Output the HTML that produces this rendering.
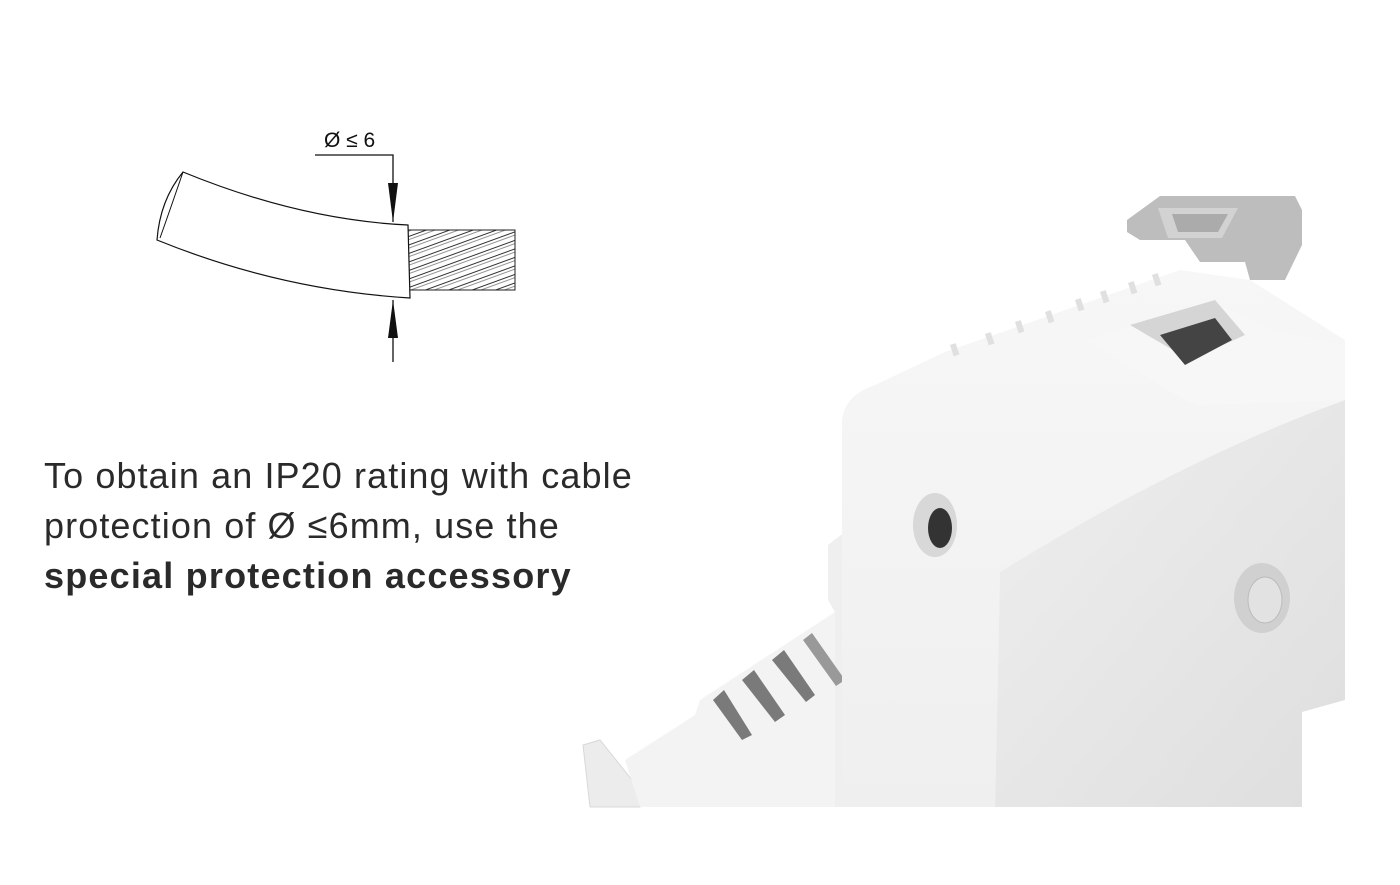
<!DOCTYPE html>
<html><head><meta charset="utf-8"><style>
html,body{margin:0;padding:0;background:#fff;}
body{width:1400px;height:885px;position:relative;overflow:hidden;font-family:"Liberation Sans",sans-serif;}
.t{position:absolute;left:44px;font-size:36px;color:#2a2a2a;line-height:50px;letter-spacing:1.1px;white-space:nowrap;}
</style></head><body>
<svg width="1400" height="885" style="position:absolute;left:0;top:0">
<defs>
<linearGradient id="rf" x1="0" y1="0" x2="1" y2="1"><stop offset="0" stop-color="#efefef"/><stop offset="1" stop-color="#dedede"/></linearGradient>
<linearGradient id="ff" x1="0" y1="0" x2="0" y2="1"><stop offset="0" stop-color="#f7f7f7"/><stop offset="1" stop-color="#efefef"/></linearGradient>
<pattern id="hatch" width="8" height="8" patternUnits="userSpaceOnUse" patternTransform="rotate(-20)"><line x1="0" y1="2" x2="8" y2="2" stroke="#333" stroke-width="1"/><line x1="0" y1="5" x2="8" y2="5" stroke="#666" stroke-width="0.7"/></pattern>
</defs>
<text x="324" y="147" font-size="21" font-family="Liberation Sans" fill="#111">Ø ≤ 6</text>
<polyline points="315,155 393,155 393,222" fill="none" stroke="#111" stroke-width="1.3"/>
<polygon points="388,183 398,183 393,222" fill="#111"/>
<line x1="393" y1="300" x2="393" y2="362" stroke="#111" stroke-width="1.3"/>
<polygon points="388,338 398,338 393,300" fill="#111"/>
<rect x="408" y="230" width="107" height="60" fill="url(#hatch)" stroke="#222" stroke-width="1"/>
<path d="M183,172 Q300,220 408,225 L410,298 Q280,290 157,240 Q160,200 183,172 Z" fill="#fff" stroke="#111" stroke-width="1.2"/>
<path d="M183,172 Q170,210 160,238" fill="none" stroke="#111" stroke-width="1"/>
<polygon points="583,745 600,740 640,790 640,807 590,807" fill="#ececec" stroke="#d8d8d8"/>
<polygon points="625,760 695,715 700,700 835,612 835,807 640,807" fill="#f3f3f3"/>
<polygon points="828,545 850,528 990,560 990,807 835,807 835,612 828,600" fill="#efefef"/>
<polygon points="713,700 724,690 752,735 742,740" fill="#7a7a7a"/>
<polygon points="742,680 754,670 785,715 775,722" fill="#7a7a7a"/>
<polygon points="772,660 784,650 815,695 806,702" fill="#7a7a7a"/>
<polygon points="803,640 812,633 845,680 836,686" fill="#999"/>
<path d="M842,420 Q845,395 875,385 L945,352 L1180,270 L1250,280 L1345,340 L1345,400 Q1180,460 1000,572 L995,807 L842,807 Z" fill="url(#ff)"/>
<g fill="#e0e0e0">
<rect x="950" y="345" width="6" height="12" transform="rotate(-18 950 345)"/>
<rect x="985" y="334" width="6" height="12" transform="rotate(-18 985 334)"/>
<rect x="1015" y="322" width="6" height="12" transform="rotate(-18 1015 322)"/>
<rect x="1045" y="312" width="6" height="12" transform="rotate(-18 1045 312)"/>
<rect x="1075" y="300" width="6" height="12" transform="rotate(-18 1075 300)"/>
<rect x="1100" y="292" width="6" height="12" transform="rotate(-18 1100 292)"/>
<rect x="1128" y="283" width="6" height="12" transform="rotate(-18 1128 283)"/>
<rect x="1152" y="275" width="6" height="12" transform="rotate(-18 1152 275)"/>
</g>
<polygon points="1085,340 1210,300 1270,330 1345,345 1345,400 1200,405 1185,400" fill="#f7f7f7"/>
<polygon points="1130,325 1215,300 1245,335 1190,360" fill="#d5d5d5"/>
<polygon points="1160,335 1215,318 1232,340 1185,365" fill="#444"/>
<path d="M1000,572 Q1180,460 1345,400 L1345,700 L1302,712 L1302,807 L995,807 Z" fill="url(#rf)"/>
<ellipse cx="935" cy="525" rx="22" ry="32" fill="#d8d8d8"/>
<ellipse cx="940" cy="528" rx="12" ry="20" fill="#333"/>
<ellipse cx="1262" cy="598" rx="28" ry="35" fill="#d0d0d0"/>
<ellipse cx="1265" cy="600" rx="17" ry="23" fill="#e2e2e2" stroke="#bbb"/>
<polygon points="1127,220 1160,196 1295,196 1302,210 1302,245 1285,280 1250,280 1245,262 1200,262 1185,240 1140,240 1127,232" fill="#bdbdbd"/>
<polygon points="1158,208 1238,208 1222,238 1168,238" fill="#d2d2d2"/>
<polygon points="1172,214 1228,214 1218,232 1178,232" fill="#ababab"/>
</svg>
<div class="t" style="top:451px">To obtain an IP20 rating with cable</div>
<div class="t" style="top:501px">protection of Ø ≤6mm, use the</div>
<div class="t" style="top:551px;font-weight:bold;letter-spacing:1.2px">special protection accessory</div>
</body></html>
